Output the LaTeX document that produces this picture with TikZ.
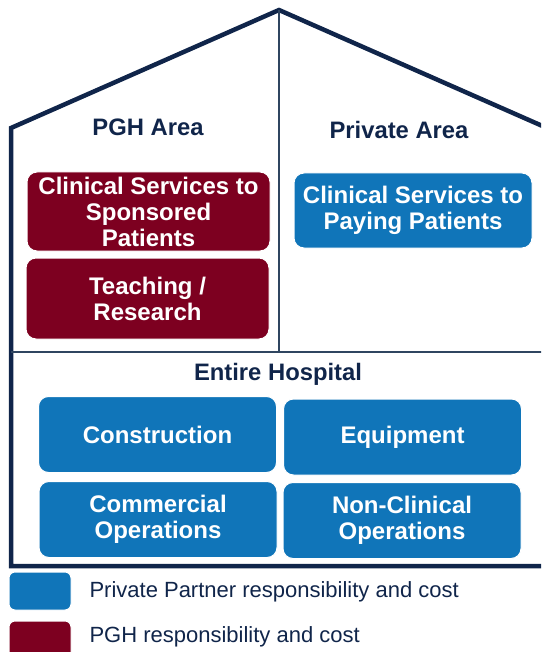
\documentclass[tikz,border=0pt]{standalone}
\usepackage{fontspec}
\setmainfont{Liberation Sans}
\usepackage{tikz}

\definecolor{navy}{HTML}{10254A}
\definecolor{slate}{HTML}{2F4560}
\definecolor{pgblue}{HTML}{1075B9}
\definecolor{pgred}{HTML}{7D0020}

\tikzset{
  area/.style={text=navy, font=\bfseries\fontsize{23.8}{26}\selectfont},
  cell/.style={rectangle, rounded corners=10pt, draw=white, line width=1pt, text=white,
    align=center, inner sep=0pt, font=\bfseries\fontsize{24}{26}\selectfont},
  bluebox/.style={cell, fill=pgblue},
  redbox/.style={cell, fill=pgred},
  legend/.style={text=navy, anchor=west, font=\fontsize{22}{24}\selectfont}
}

\begin{document}
\begin{tikzpicture}[x=1pt,y=-1pt]
\useasboundingbox (0,0) rectangle (541,652);
\clip (0,0) rectangle (541,652);
% house
\draw[navy, line width=4.5pt, line join=miter] (11,128) -- (279,10) -- (547,128) -- (547,566) -- (11,566) -- cycle;
\draw[slate, line width=1.5pt] (279,10) -- (279,352);
\draw[slate, line width=2pt] (11,352) -- (547,352);

\node[area] (pgharea) at (148,127) {PGH Area};
\node[area] (privatearea) at (399,130) {Private Area};
\node[area] (entire) at (278,374) {Entire Hospital};

\node[redbox, minimum width=243pt, minimum height=79pt] (sponsored) at (148.5,211.5) {Clinical Services to\\Sponsored\\Patients};
\node[redbox, minimum width=243pt, minimum height=81pt] (teaching) at (147.5,298.5) {Teaching /\\Research};
\node[bluebox, minimum width=238pt, minimum height=75pt] (paying) at (413,210.5) {Clinical Services to\\Paying Patients};

\foreach \nm/\px/\py/\txt in {construction/157.5/434.5/Construction, equipment/402.5/437/Equipment,
  commercial/158/519.5/{Commercial\\Operations}, nonclinical/402/520.5/{Non-Clinical\\Operations}}
  \node[bluebox, minimum width=238pt, minimum height=76pt] (\nm) at (\px,\py) {\txt};

% legend
\node[bluebox, minimum width=62pt, minimum height=38pt, rounded corners=6pt] (keyblue) at (40,591) {};
\node[redbox, minimum width=62pt, minimum height=40pt, rounded corners=6pt] (keyred) at (40,641) {};
\node[legend] (privlabel) at (86,592) {Private Partner responsibility and cost};
\node[legend] (pghlabel) at (86,637) {PGH responsibility and cost};
\end{tikzpicture}
\end{document}
